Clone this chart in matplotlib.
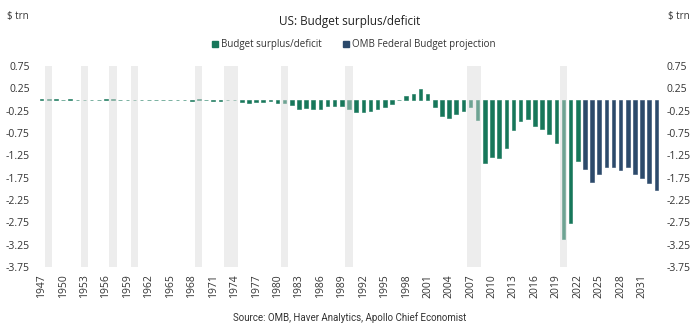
import matplotlib
matplotlib.use("Agg")
import matplotlib.pyplot as plt
from matplotlib.patches import Patch

plt.rcParams['font.family'] = ['Open Sans', 'DejaVu Sans']

# actual budget balance, $ trn (fiscal years 1947-2022)
years_actual = list(range(1947, 2023))
balance_actual = [
    0.004, 0.012, 0.001, -0.003, 0.006, -0.002, -0.007, -0.001, -0.003, 0.004,
    0.003, -0.003, -0.013, 0.000, -0.003, -0.007, -0.005, -0.006, -0.001, -0.004,
    -0.009, -0.025, 0.003, -0.003, -0.023, -0.023, -0.015, -0.006, -0.053, -0.074,
    -0.054, -0.059, -0.041, -0.074, -0.079, -0.128, -0.208, -0.185, -0.212, -0.221,
    -0.150, -0.155, -0.153, -0.221, -0.269, -0.290, -0.255, -0.203, -0.164, -0.107,
    -0.022, 0.069, 0.126, 0.236, 0.128, -0.158, -0.378, -0.413, -0.318, -0.248,
    -0.161, -0.459, -1.413, -1.294, -1.300, -1.087, -0.680, -0.485, -0.442, -0.585,
    -0.665, -0.779, -0.984, -3.132, -2.775, -1.376,
]

# OMB projection, $ trn
years_proj = list(range(2023, 2034))
balance_proj = [-1.56, -1.85, -1.66, -1.52, -1.50, -1.58, -1.52, -1.67, -1.76, -1.86, -2.02]

# recession shading (years)
recession_years = [1948, 1953, 1957, 1960, 1969, 1973, 1974, 1981, 1990, 2007, 2008, 2020]

green = "#17775a"
blue = "#2c4a6b"

fig = plt.figure(figsize=(7, 3.33), dpi=100)
ax = fig.add_axes([38 / 700, 1 - 267 / 333, 622 / 700, 201 / 333])

ax.bar(years_actual, balance_actual, width=0.5, color=green, edgecolor=green,
       linewidth=0.4, zorder=2)
ax.bar(years_proj, balance_proj, width=0.5, color=blue, edgecolor=blue,
       linewidth=0.4, zorder=2)

for y in recession_years:
    ax.axvspan(y - 0.5, y + 0.5, color="#d9d9d9", alpha=0.45, lw=0, zorder=3)

ax.set_xlim(1946.5, 2033.5)
ax.set_ylim(-3.75, 0.75)
yticks = [0.75, 0.25, -0.25, -0.75, -1.25, -1.75, -2.25, -2.75, -3.25, -3.75]
ax.set_yticks(yticks)
ax.set_yticklabels([f"{v:.2f}" for v in yticks])
ax.set_xticks(list(range(1947, 2032, 3)))
ax.tick_params(axis="x", rotation=90, length=0, labelsize=7.5, pad=5, colors="#333333")
ax.tick_params(axis="y", length=0, labelsize=7.5, pad=6, colors="#333333")
for s in ax.spines.values():
    s.set_visible(False)

ax2 = ax.twinx()
ax2.set_ylim(-3.75, 0.75)
ax2.set_yticks(yticks)
ax2.set_yticklabels([f"{v:.2f}" for v in yticks])
ax2.tick_params(axis="y", length=0, labelsize=7.5, pad=5, colors="#333333")
for s in ax2.spines.values():
    s.set_visible(False)

fig.text(0.5, 1 - 21 / 333, "US: Budget surplus/deficit", ha="center", va="center",
         fontsize=8.5, color="#222222")
fig.text(7 / 700, 1 - 16 / 333, "$ trn", ha="left", va="center", fontsize=7, color="#333333")
fig.text(668 / 700, 1 - 16 / 333, "$ trn", ha="left", va="center", fontsize=7, color="#333333")

handles = [Patch(color=green, label="Budget surplus/deficit"),
           Patch(color=blue, label="OMB Federal Budget projection")]
fig.legend(handles=handles, loc="center", bbox_to_anchor=(0.505, 1 - 45 / 333), ncol=2,
           frameon=False, fontsize=7, handlelength=0.6, handleheight=0.6,
           handletextpad=0.3, columnspacing=2.2, labelcolor="#333333")

fig.text(0.5, 1 - 318 / 333, "Source: OMB, Haver Analytics, Apollo Chief Economist",
         ha="center", va="center", fontsize=7, color="#333333",
         family=["Liberation Sans Narrow", "Roboto", "DejaVu Sans"])

fig.savefig("out.png", dpi=100)
